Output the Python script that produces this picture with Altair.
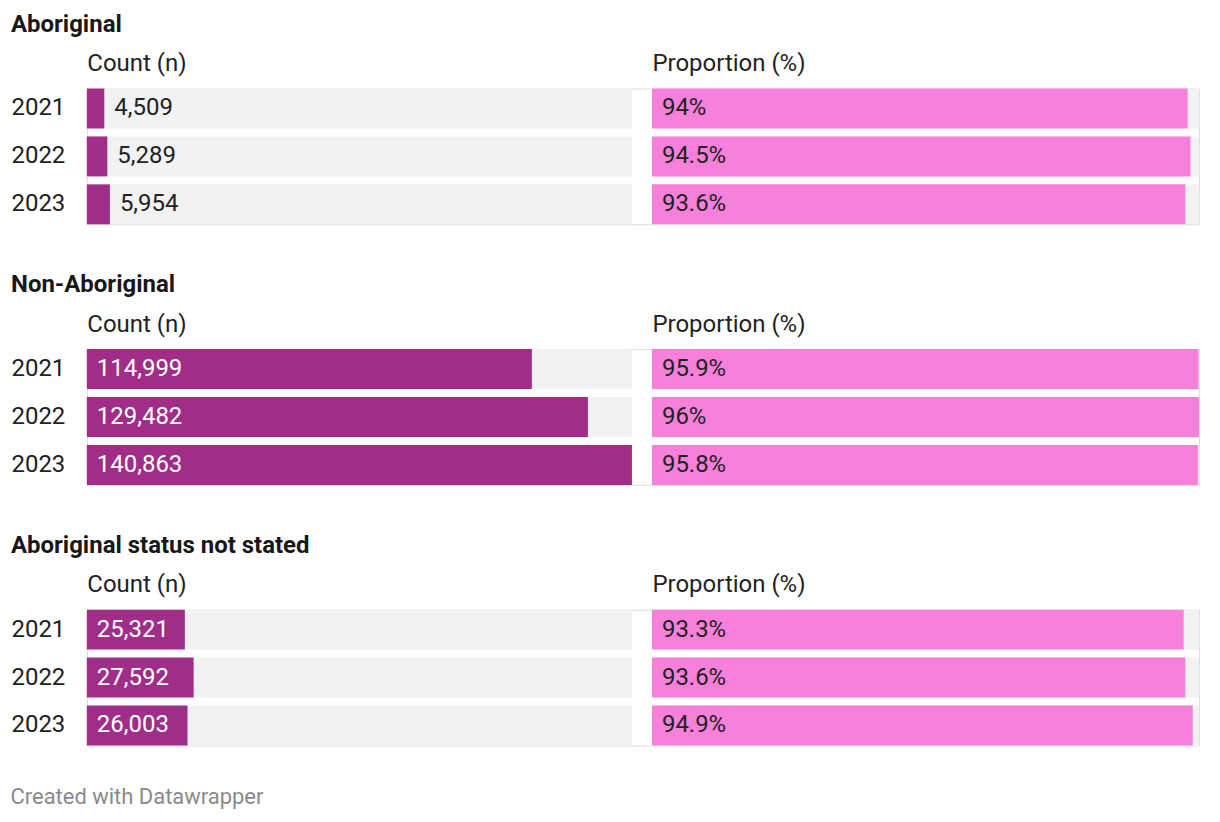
import altair as alt
import pandas as pd

groups = ["Aboriginal", "Non-Aboriginal", "Aboriginal status not stated"]
years = ["2021", "2022", "2023"]
counts = [[4509, 5289, 5954], [114999, 129482, 140863], [25321, 27592, 26003]]
props = [[94.0, 94.5, 93.6], [95.9, 96.0, 95.8], [93.3, 93.6, 94.9]]
count_header = "Count (n)"
prop_header = "Proportion (%)"
footer = "Created with Datawrapper"

COUNT_MAX = max(max(c) for c in counts)
PROP_MAX = max(max(p) for p in props)

PURPLE = "#a02e89"
PINK = "#f780db"
TRACK = "#f2f2f2"
DARK = "#222222"
FONT = "Roboto"
FS = 24

count_scale = alt.Scale(domain=[0, COUNT_MAX], range=[0, 546], nice=False)
prop_scale = alt.Scale(domain=[0, PROP_MAX], range=[566, 1114], nice=False)


def x_axis(title):
    return alt.Axis(orient="top", title=title, titleAnchor="start", titleAlign="left",
                    titleFontSize=FS, titleFontWeight="normal", titleColor=DARK, titleFont=FONT,
                    titlePadding=13, labels=False, ticks=False, domain=False, grid=False)


count_axis = x_axis(count_header)
prop_axis = x_axis(prop_header)

y_enc = alt.Y("year:N", title=None,
              scale=alt.Scale(paddingInner=8 / 48, paddingOuter=0),
              axis=alt.Axis(labelAlign="left", labelPadding=76, labelFontSize=FS, labelFont=FONT,
                            labelColor=DARK, ticks=False, domain=False, grid=False))


def group_chart(gi):
    df = pd.DataFrame({
        "year": years,
        "count": counts[gi],
        "prop": props[gi],
        "count_max": [COUNT_MAX] * 3,
        "prop_max": [PROP_MAX] * 3,
        "prop_label": [f"{p:g}%" for p in props[gi]],
    })
    base = alt.Chart(df)
    txt = dict(align="left", baseline="middle", dx=10, fontSize=FS, font=FONT)

    bg_c = base.mark_bar(color=TRACK, strokeWidth=0).encode(
        x=alt.X("count_max:Q", scale=count_scale, axis=count_axis), y=y_enc)
    bar_c = base.mark_bar(color=PURPLE, strokeWidth=0).encode(
        x=alt.X("count:Q", scale=count_scale, axis=count_axis), y=y_enc)
    out_c = base.transform_filter(f"datum.count / {COUNT_MAX} < 0.15").mark_text(color=DARK, **txt).encode(
        x=alt.X("count:Q", scale=count_scale, axis=count_axis), y=y_enc,
        text=alt.Text("count:Q", format=",d"))
    in_c = base.transform_filter(f"datum.count / {COUNT_MAX} >= 0.15").mark_text(color="white", **txt).encode(
        x=alt.XDatum(0, type="quantitative", scale=count_scale, axis=count_axis), y=y_enc,
        text=alt.Text("count:Q", format=",d"))
    count_layer = alt.layer(bg_c, bar_c, out_c, in_c)

    bg_p = base.mark_bar(color=TRACK, strokeWidth=0).encode(
        x=alt.X("prop_max:Q", scale=prop_scale, axis=prop_axis), y=y_enc)
    bar_p = base.mark_bar(color=PINK, strokeWidth=0).encode(
        x=alt.X("prop:Q", scale=prop_scale, axis=prop_axis), y=y_enc)
    txt_p = base.mark_text(color=DARK, **txt).encode(
        x=alt.XDatum(0, type="quantitative", scale=prop_scale, axis=prop_axis), y=y_enc,
        text="prop_label:N")
    prop_layer = alt.layer(bg_p, bar_p, txt_p)

    return alt.layer(count_layer, prop_layer).resolve_scale(x="independent").properties(
        width=1114, height=136,
        title=alt.TitleParams(text=groups[gi], anchor="start", fontSize=FS, fontWeight="bold",
                              font=FONT, color="#181818", offset=15),
    )


chart = alt.vconcat(*[group_chart(i) for i in range(3)], spacing=47).properties(
    padding={"left": 10, "top": 11, "right": 20, "bottom": 10},
    title=alt.TitleParams(text=footer, orient="bottom", anchor="start", fontSize=22,
                          fontWeight="normal", font=FONT, color="#8a8a8a", offset=41),
).configure_view(stroke=None, strokeWidth=0).configure(font=FONT).configure_axis(
    domain=False, ticks=False, grid=False, domainColor="transparent",
    gridColor="transparent", tickColor="transparent").configure_axisX(labels=False)

chart.save("out.html", embed_options={"renderer": "svg", "actions": False})
